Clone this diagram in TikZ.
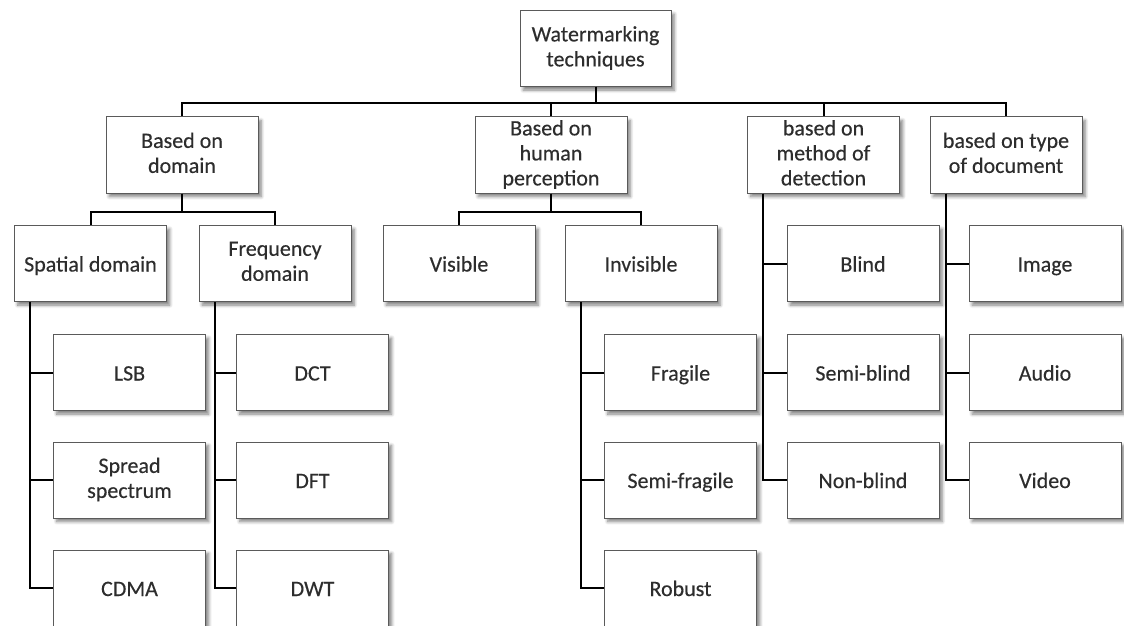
\documentclass[tikz,border=0pt]{standalone}
\usepackage{fontspec}
\setmainfont{Carlito}
\newfontfamily\boxfont{Carlito}[FakeBold=0.35]
\usetikzlibrary{shadows.blur}
\begin{document}
\begin{tikzpicture}[x=0.5pt,y=-0.5pt,
  box/.style={draw={rgb,255:red,90;green,90;blue,90}, line width=0.5pt, fill=white,
    minimum width=76pt, minimum height=38pt, inner xsep=2pt, inner ysep=0pt, align=center,
    text={rgb,255:red,45;green,45;blue,45},
    font=\boxfont\fontsize{11pt}{12.5pt}\selectfont,
    execute at begin node=\rule{0pt}{10.25pt},
    execute at end node=\rule[-2.25pt]{0pt}{2.25pt},
    blur shadow={shadow xshift=1.6pt, shadow yshift=-1.8pt, shadow opacity=50, shadow blur steps=6, shadow blur radius=1.6pt}},
  link/.style={draw=black, line width=1pt}]
\useasboundingbox (0,0) rectangle (1124,626);

% root
\node[box, minimum width=75.5pt] (root) at (595.5,48.5) {Watermarking\\techniques};

% first level
\node[box] (dom) at (182,155) {Based on\\domain};
\node[box] (hum) at (551,155) {Based on\\human\\perception};
\node[box] (det) at (823.5,155) {based on\\method of\\detection};
\node[box] (typ) at (1006,155) {based on type\\of document};

% second level
\node[box] (spa) at (90.5,263.5) {Spatial domain};
\node[box] (fre) at (275,263.5) {Frequency\\domain};
\node[box] (vis) at (459,263.5) {Visible};
\node[box] (inv) at (641,263.5) {Invisible};
\node[box] (bli) at (863,263.5) {Blind};
\node[box] (img) at (1045,263.5) {Image};

% third level
\node[box] (lsb) at (129.5,372.5) {LSB};
\node[box] (dct) at (312.5,372.5) {DCT};
\node[box] (fra) at (680.5,372.5) {Fragile};
\node[box] (sbl) at (863,372.5) {Semi-blind};
\node[box] (aud) at (1045,372.5) {Audio};

% fourth level
\node[box] (spr) at (129.5,480) {Spread\\spectrum};
\node[box] (dft) at (312.5,480) {DFT};
\node[box] (sfr) at (680.5,480) {Semi-fragile};
\node[box] (nbl) at (863,480) {Non-blind};
\node[box] (vid) at (1045,480) {Video};

% fifth level
\node[box] (cdm) at (129.5,588) {CDMA};
\node[box] (dwt) at (312.5,588) {DWT};
\node[box] (rob) at (680.5,588) {Robust};

% root to first level
\foreach \c in {dom,hum,det,typ}
  \draw[link] (root.south) -- ++(0,-8pt) -| (\c.north);

% domain and perception to their sub-classes
\foreach \p/\c in {dom/spa,dom/fre,hum/vis,hum/inv}
  \draw[link] (\p.south) -- ++(0,-9pt) -| (\c.north);

% vertical trunks with side branches
\foreach \p/\c in {spa/lsb,spa/spr,spa/cdm,fre/dct,fre/dft,fre/dwt,
                   inv/fra,inv/sfr,inv/rob,det/bli,det/sbl,det/nbl,
                   typ/img,typ/aud,typ/vid}
  \draw[link] ([xshift=8pt]\p.south west) |- (\c.west);
\end{tikzpicture}
\end{document}
